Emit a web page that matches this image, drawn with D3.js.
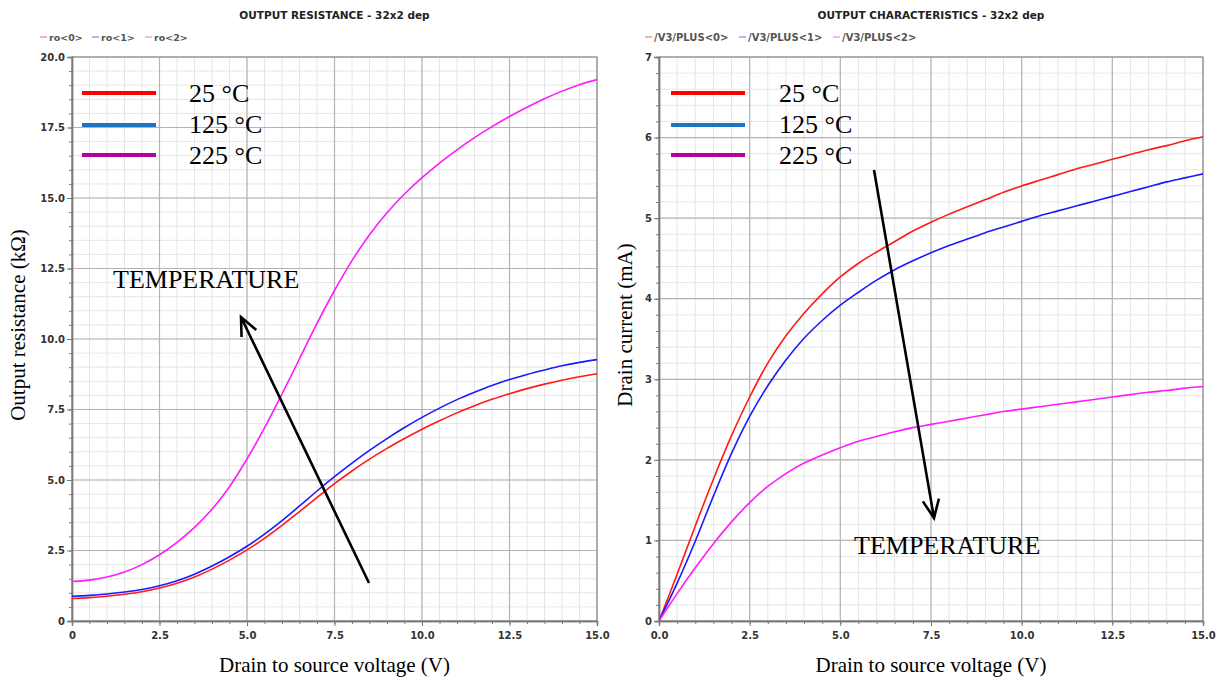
<!DOCTYPE html>
<html>
<head>
<meta charset="utf-8">
<script src="https://cdn.jsdelivr.net/npm/d3@7"></script>
<style>
  body { margin: 0; background: #fff; }
  svg { display: block; }
  .tick text { font-family: "DejaVu Sans", sans-serif; font-weight: bold; font-size: 10px; fill: #333; }
  .serif { font-family: "Liberation Serif", "Times New Roman", serif; fill: #000; }
</style>
</head>
<body>
<main></main>
<script>
// drain-source voltage samples (V)
var vds = [0, 0.5, 1, 1.5, 2, 2.5, 3, 3.5, 4, 4.5, 5, 5.5, 6, 6.5, 7, 7.5,
           8, 8.5, 9, 9.5, 10, 10.5, 11, 11.5, 12, 12.5, 13, 13.5, 14, 14.5, 15];

// output resistance (kOhm) for 25 / 125 / 225 C
var ro0 = [0.80, 0.83, 0.88, 0.95, 1.04, 1.17, 1.34, 1.56, 1.84, 2.16, 2.52, 2.93, 3.39, 3.88, 4.38, 4.87,
           5.32, 5.74, 6.12, 6.47, 6.80, 7.10, 7.38, 7.63, 7.86, 8.06, 8.24, 8.40, 8.54, 8.66, 8.77];
var ro1 = [0.88, 0.91, 0.96, 1.03, 1.12, 1.25, 1.43, 1.66, 1.95, 2.28, 2.65, 3.08, 3.56, 4.08, 4.61, 5.12,
           5.60, 6.05, 6.47, 6.86, 7.22, 7.55, 7.85, 8.11, 8.35, 8.56, 8.74, 8.90, 9.05, 9.17, 9.27];
var ro2 = [1.40, 1.45, 1.56, 1.74, 2.00, 2.35, 2.79, 3.32, 3.96, 4.76, 5.75, 6.85, 8.05, 9.30, 10.55, 11.72,
           12.78, 13.70, 14.48, 15.14, 15.72, 16.24, 16.71, 17.14, 17.53, 17.89, 18.22, 18.52, 18.79, 19.02, 19.20];

// drain current (mA) for 25 / 125 / 225 C
var id0 = [0, 0.58, 1.18, 1.76, 2.30, 2.78, 3.20, 3.54, 3.82, 4.06, 4.27, 4.44, 4.58, 4.71, 4.84, 4.95,
           5.05, 5.14, 5.23, 5.32, 5.40, 5.47, 5.54, 5.61, 5.67, 5.73, 5.79, 5.85, 5.90, 5.96, 6.01];
var id1 = [0, 0.47, 0.99, 1.55, 2.08, 2.54, 2.92, 3.24, 3.51, 3.73, 3.92, 4.08, 4.23, 4.36, 4.47, 4.57,
           4.66, 4.74, 4.82, 4.89, 4.96, 5.03, 5.09, 5.15, 5.21, 5.27, 5.33, 5.39, 5.45, 5.50, 5.55];
var id2 = [0, 0.34, 0.66, 0.96, 1.23, 1.47, 1.67, 1.83, 1.96, 2.06, 2.15, 2.23, 2.29, 2.35, 2.40, 2.44,
           2.48, 2.52, 2.56, 2.60, 2.63, 2.66, 2.69, 2.72, 2.75, 2.78, 2.81, 2.84, 2.86, 2.89, 2.91];

var xTicks = [0, 2.5, 5, 7.5, 10, 12.5, 15];
var roTicks = [0, 2.5, 5, 7.5, 10, 12.5, 15, 17.5, 20];
var idTicks = [0, 1, 2, 3, 4, 5, 6, 7];
var temps = ["25 °C", "125 °C", "225 °C"];
var roNames = ["ro<0>", "ro<1>", "ro<2>"];
var idNames = ["/V3/PLUS<0>", "/V3/PLUS<1>", "/V3/PLUS<2>"];

var curveColors = ["#ff1a1a", "#1a1aff", "#ff1aff"];
var faintColors = ["#f39a9a", "#9a9af3", "#f39af3"];
var keyColors = ["#ff0000", "#1a75c4", "#b3009e"];

var svg = d3.select("main").append("svg")
    .attr("width", 1223)
    .attr("height", 681);

svg.append("rect").attr("width", 1223).attr("height", 681).attr("fill", "#fff");

svg.append("defs").append("clipPath").attr("id", "clipL")
  .append("rect").attr("x", 72).attr("y", 57).attr("width", 525).attr("height", 564);
svg.select("defs").append("clipPath").attr("id", "clipR")
  .append("rect").attr("x", 659).attr("y", 57).attr("width", 544).attr("height", 564);

drawPanel({
  left: 72, right: 597, top: 57, bottom: 621,
  ymax: 20, yTicks: roTicks, yMinor: 0.5,
  xFmt: function(d) { return d === 0 ? "0" : d.toFixed(1); },
  yFmt: function(d) { return d === 0 ? "0" : d.toFixed(1); },
  series: [ro0, ro1, ro2],
  names: roNames, legendX: [40, 92, 145], fontLegend: 9.5,
  title: "OUTPUT RESISTANCE - 32x2 dep",
  ylabel: "Output resistance (kΩ)", ylabelX: 25, clip: "clipL",
  keyX: 82, textX: 189,
  tempText: [113, 288],
  arrow: [[369, 583], [241, 317]]
});

drawPanel({
  left: 659, right: 1203, top: 57, bottom: 621,
  ymax: 7, yTicks: idTicks, yMinor: 0.2,
  xFmt: function(d) { return d.toFixed(1); },
  yFmt: function(d) { return d; },
  series: [id0, id1, id2],
  names: idNames, legendX: [645, 739, 833], fontLegend: 10,
  title: "OUTPUT CHARACTERISTICS - 32x2 dep",
  ylabel: "Drain current (mA)", ylabelX: 632, clip: "clipR",
  keyX: 671, textX: 779,
  tempText: [854, 554],
  arrow: [[874, 170], [934, 518]]
});

function drawPanel(p) {
  var x = d3.scaleLinear().domain([0, 15]).range([p.left, p.right]);
  var y = d3.scaleLinear().domain([0, p.ymax]).range([p.bottom, p.top]);
  var g = svg.append("g");

  var xMinor = d3.range(0, 15.001, 0.5);
  var yMinor = d3.range(0, p.ymax + 0.001, p.yMinor);

  // minor grid
  g.selectAll(".vmin").data(xMinor).enter().append("line")
      .attr("x1", function(d) { return x(d); }).attr("x2", function(d) { return x(d); })
      .attr("y1", p.top).attr("y2", p.bottom)
      .style("stroke", "#e6e6e6").style("stroke-width", 1);
  g.selectAll(".hmin").data(yMinor).enter().append("line")
      .attr("y1", function(d) { return y(d); }).attr("y2", function(d) { return y(d); })
      .attr("x1", p.left).attr("x2", p.right)
      .style("stroke", "#e6e6e6").style("stroke-width", 1);

  // major grid
  g.selectAll(".vmaj").data(xTicks).enter().append("line")
      .attr("x1", function(d) { return x(d); }).attr("x2", function(d) { return x(d); })
      .attr("y1", p.top).attr("y2", p.bottom)
      .style("stroke", "#b4b4b4").style("stroke-width", 1.2);
  g.selectAll(".hmaj").data(p.yTicks).enter().append("line")
      .attr("y1", function(d) { return y(d); }).attr("y2", function(d) { return y(d); })
      .attr("x1", p.left).attr("x2", p.right)
      .style("stroke", "#b4b4b4").style("stroke-width", 1.2);

  // frame
  g.append("rect")
      .attr("x", p.left).attr("y", p.top)
      .attr("width", p.right - p.left).attr("height", p.bottom - p.top)
      .style("fill", "none").style("stroke", "#8c8c8c").style("stroke-width", 1);

  // axes: minor ticks first, then major with labels
  g.append("g").attr("transform", "translate(0," + p.bottom + ")")
      .call(d3.axisBottom(x).tickValues(xMinor).tickSize(3).tickFormat(""))
      .call(styleAxis);
  g.append("g").attr("transform", "translate(0," + p.bottom + ")")
      .call(d3.axisBottom(x).tickValues(xTicks).tickSize(5).tickPadding(6).tickFormat(p.xFmt))
      .call(styleAxis);
  g.append("g").attr("transform", "translate(" + p.left + ",0)")
      .call(d3.axisLeft(y).tickValues(yMinor).tickSize(3).tickFormat(""))
      .call(styleAxis);
  g.append("g").attr("transform", "translate(" + p.left + ",0)")
      .call(d3.axisLeft(y).tickValues(p.yTicks).tickSize(5).tickPadding(2).tickFormat(p.yFmt))
      .call(styleAxis);

  // curves
  var line = d3.line()
      .x(function(d, i) { return x(vds[i]); })
      .y(function(d) { return y(d); })
      .curve(d3.curveCatmullRom.alpha(0.5));
  p.series.forEach(function(s, i) {
    g.append("path")
        .datum(s)
        .attr("clip-path", "url(#" + p.clip + ")")
        .attr("d", line)
        .style("fill", "none")
        .style("stroke", curveColors[i])
        .style("stroke-width", 1.6);
  });

  // title + simulator legend
  var cx = (p.left + p.right) / 2;
  svg.append("text")
      .attr("x", cx).attr("y", 19)
      .attr("text-anchor", "middle")
      .style("font-family", "DejaVu Sans, sans-serif")
      .style("font-weight", "bold").style("font-size", "10.5px").style("fill", "#222")
      .text(p.title);

  p.names.forEach(function(n, i) {
    svg.append("line")
        .attr("x1", p.legendX[i]).attr("x2", p.legendX[i] + 7)
        .attr("y1", 37).attr("y2", 37)
        .style("stroke", faintColors[i]).style("stroke-width", 1.5);
    svg.append("text")
        .attr("x", p.legendX[i] + 9).attr("y", 40.5)
        .style("font-family", "DejaVu Sans, sans-serif")
        .style("font-weight", "bold").style("font-size", p.fontLegend + "px").style("fill", "#555")
        .text(n);
  });

  // temperature key
  var keyY = [93, 125, 155];
  var textY = [102, 133, 164];
  temps.forEach(function(t, i) {
    svg.append("line")
        .attr("x1", p.keyX).attr("x2", p.keyX + 74)
        .attr("y1", keyY[i]).attr("y2", keyY[i])
        .style("stroke", keyColors[i]).style("stroke-width", 4);
    svg.append("text")
        .attr("class", "serif")
        .attr("x", p.textX).attr("y", textY[i])
        .style("font-size", "26px")
        .text(t);
  });

  svg.append("text")
      .attr("class", "serif")
      .attr("x", p.tempText[0]).attr("y", p.tempText[1])
      .style("font-size", "26px")
      .text("TEMPERATURE");

  drawArrow(p.arrow[0], p.arrow[1]);

  // axis titles
  svg.append("text")
      .attr("class", "serif")
      .attr("x", cx).attr("y", 672)
      .attr("text-anchor", "middle")
      .style("font-size", "21px")
      .text("Drain to source voltage (V)");
  svg.append("text")
      .attr("class", "serif")
      .attr("transform", "translate(" + p.ylabelX + "," + 325 + ") rotate(-90)")
      .attr("text-anchor", "middle")
      .style("font-size", "21px")
      .text(p.ylabel);
}

function styleAxis(sel) {
  sel.select(".domain").style("stroke", "#7a7a7a").style("stroke-width", 1.4);
  sel.selectAll(".tick line").style("stroke", "#7a7a7a");
}

function drawArrow(from, to) {
  var ang = Math.atan2(to[1] - from[1], to[0] - from[0]);
  var len = 20, spread = 0.42;
  var a1 = [to[0] - len * Math.cos(ang - spread), to[1] - len * Math.sin(ang - spread)];
  var a2 = [to[0] - len * Math.cos(ang + spread), to[1] - len * Math.sin(ang + spread)];
  svg.append("path")
      .attr("d", "M" + from + "L" + to + "M" + a1 + "L" + to + "L" + a2)
      .style("fill", "none").style("stroke", "#000").style("stroke-width", 2.6)
      .style("stroke-linejoin", "miter");
}
</script>
</body>
</html>
